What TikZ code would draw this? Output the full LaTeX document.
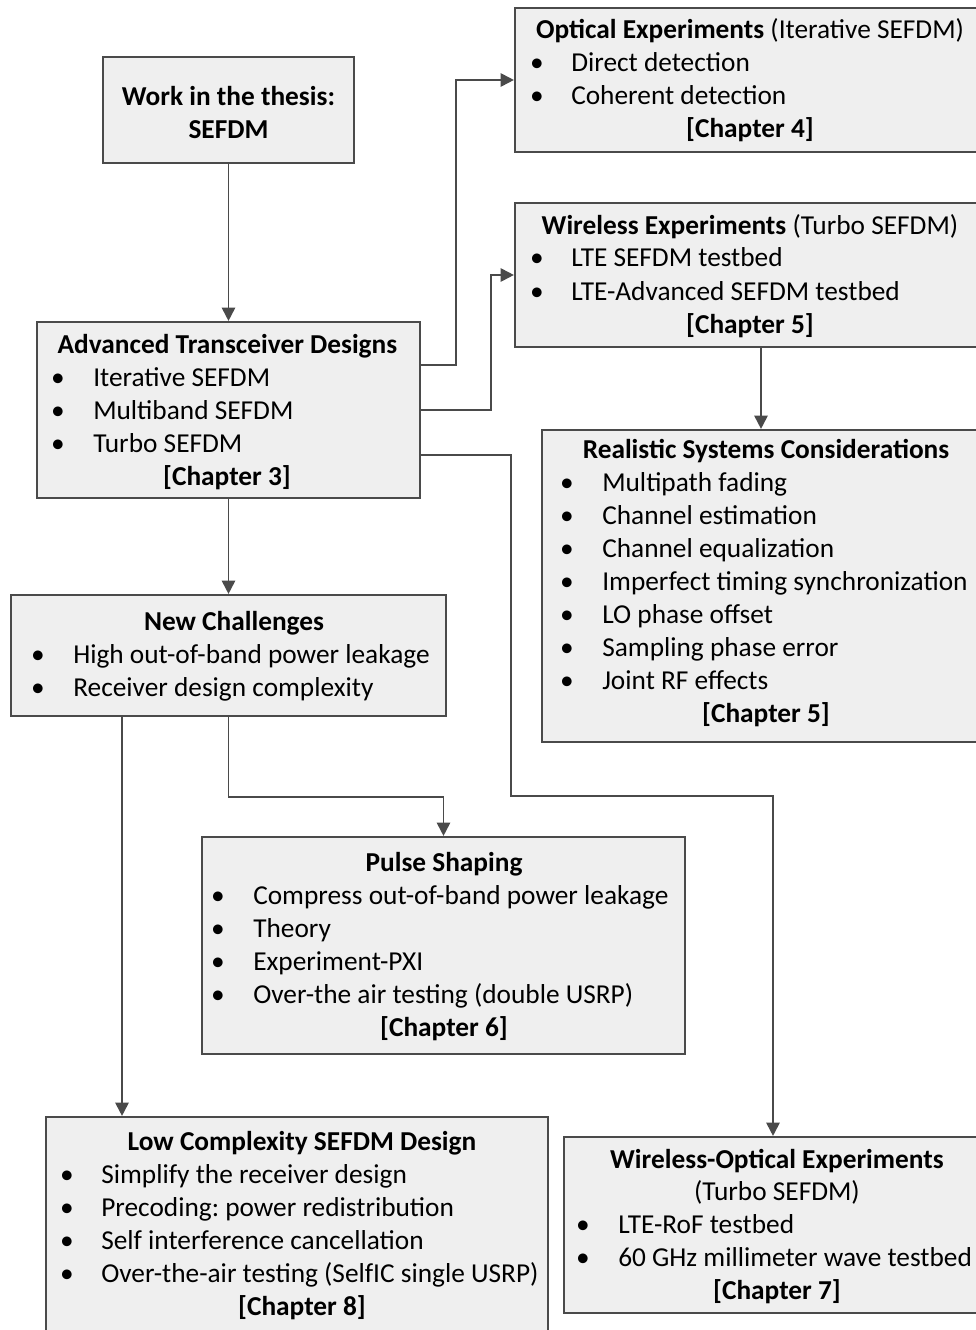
\documentclass[tikz,border=0pt]{standalone}
\usepackage{fontspec}
\setmainfont{Carlito}
\usetikzlibrary{arrows.meta,fit}
\frenchspacing

\definecolor{boxfill}{HTML}{EFEFEF}
\definecolor{edge}{HTML}{4A4A4A}
\newcommand\bodysize{\fontsize{20.5pt}{24.75pt}\selectfont}

% one bulleted list: node prefix, bullet x, text x, {baseline/text,...}
\newcommand\bulletlist[4]{%
  \foreach \yy/\tt [count=\i] in {#4} {%
    \node[bul] (#1-b\i) at (#2,\yy) {•};
    \node[txt] (#1-t\i) at (#3,\yy) {\tt};
  }}

\begin{document}
\begin{tikzpicture}[x=0.75pt,y=-0.75pt,
  box/.style={draw=edge, line width=1.6pt, fill=boxfill, inner sep=0pt, rectangle},
  link/.style={draw=edge, line width=1.4pt, -{Triangle[length=10pt,width=10pt]}},
  txt/.style={anchor=base west, inner sep=0pt, font=\bodysize},
  bul/.style={anchor=base, inner sep=0pt, font=\bodysize},
  ttl/.style={anchor=base, inner sep=0pt, font=\bodysize\bfseries},
  ctr/.style={anchor=base, inner sep=0pt, font=\bodysize}]
\useasboundingbox (0,0) rectangle (975,1330);

% ---- boxes
\node[box, fit={(103,57)(354,163)}]   (work) {};
\node[box, fit={(37,322)(420,498)}]   (adv)  {};
\node[box, fit={(515,8)(990,152)}]    (opt)  {};
\node[box, fit={(515,203)(1007,347)}] (wl)   {};
\node[box, fit={(542,430)(990,742)}]  (rs)   {};
\node[box, fit={(11,595)(446,716)}]   (nc)   {};
\node[box, fit={(202,837)(685,1054)}] (ps)   {};
\node[box, fit={(46,1117)(548,1345)}] (lc)   {};
\node[box, fit={(564,1137)(982,1313)}] (wo)  {};

% ---- connectors
\draw[link] (work.south) -- (adv.north);
\draw[link] (adv.east |- 0,365) -- ++(35,0) |- (opt.west);
\draw[link] (adv.east |- 0,410) -- ++(70,0) |- (wl.west);
\draw[link] (adv.east |- 0,455) -- ++(90,0) -- ++(0,341) -| (wo.north);
\draw[link] (wl.south -| 761,0) -- (rs.north -| 761,0);
\draw[link] (adv.south) -- (nc.north);
\draw[link] (nc.south) -- ++(0,80) -| (ps.north);
\draw[link] (nc.south -| 122,0) -- (lc.north -| 122,0);

% ---- texts
\node[ttl] (work-l1) at (228.5,106) {Work in the thesis:};
\node[ttl] (work-l2) at (228.5,139) {SEFDM};

\node[ctr] (opt-h) at (750,39) {\textbf{Optical Experiments} (Iterative SEFDM)};
\bulletlist{opt}{537}{571}{72/Direct detection,105/Coherent detection}
\node[ttl] (opt-c) at (750,138) {[Chapter 4]};

\node[ctr] (wl-h) at (750,234) {\textbf{Wireless Experiments} (Turbo SEFDM)};
\bulletlist{wl}{537}{571}{267/LTE SEFDM testbed,300/LTE-Advanced SEFDM testbed}
\node[ttl] (wl-c) at (750,333) {[Chapter 5]};

\node[ttl] (rs-h) at (766,458) {Realistic Systems Considerations};
\bulletlist{rs}{567}{602}{491/Multipath fading,524/Channel estimation,557/Channel equalization,590/Imperfect timing synchronization,623/LO phase offset,656/Sampling phase error,689/Joint RF effects}
\node[ttl] (rs-c) at (766,722) {[Chapter 5]};

\node[ttl] (adv-h) at (227.5,353) {Advanced Transceiver Designs};
\bulletlist{adv}{58}{93}{386/Iterative SEFDM,419/Multiband SEFDM,452/Turbo SEFDM}
\node[ttl] (adv-c) at (227,485) {[Chapter 3]};

\node[ttl] (nc-h) at (234,630) {New Challenges};
\bulletlist{nc}{38}{73}{663/High out-of-band power leakage,696/Receiver design complexity}

\node[ttl] (ps-h) at (444,871) {Pulse Shaping};
\bulletlist{ps}{218}{253}{904/Compress out-of-band power leakage,937/Theory,970/Experiment-PXI,1003/Over-the air testing (double USRP)}
\node[ttl] (ps-c) at (444,1036) {[Chapter 6]};

\node[ttl] (lc-h) at (302,1150) {Low Complexity SEFDM Design};
\bulletlist{lc}{67}{101}{1183/Simplify the receiver design,1216/Precoding: power redistribution,1249/Self interference cancellation,1282/Over-the-air testing (SelfIC single USRP)}
\node[ttl] (lc-c) at (302,1315) {[Chapter 8]};

\node[ttl] (wo-h) at (777,1168) {Wireless-Optical Experiments};
\node[ctr] (wo-s) at (777,1200) {(Turbo SEFDM)};
\bulletlist{wo}{583}{618}{1233/LTE-RoF testbed,1266/60 GHz millimeter wave testbed}
\node[ttl] (wo-c) at (777,1299) {[Chapter 7]};
\end{tikzpicture}
\end{document}
